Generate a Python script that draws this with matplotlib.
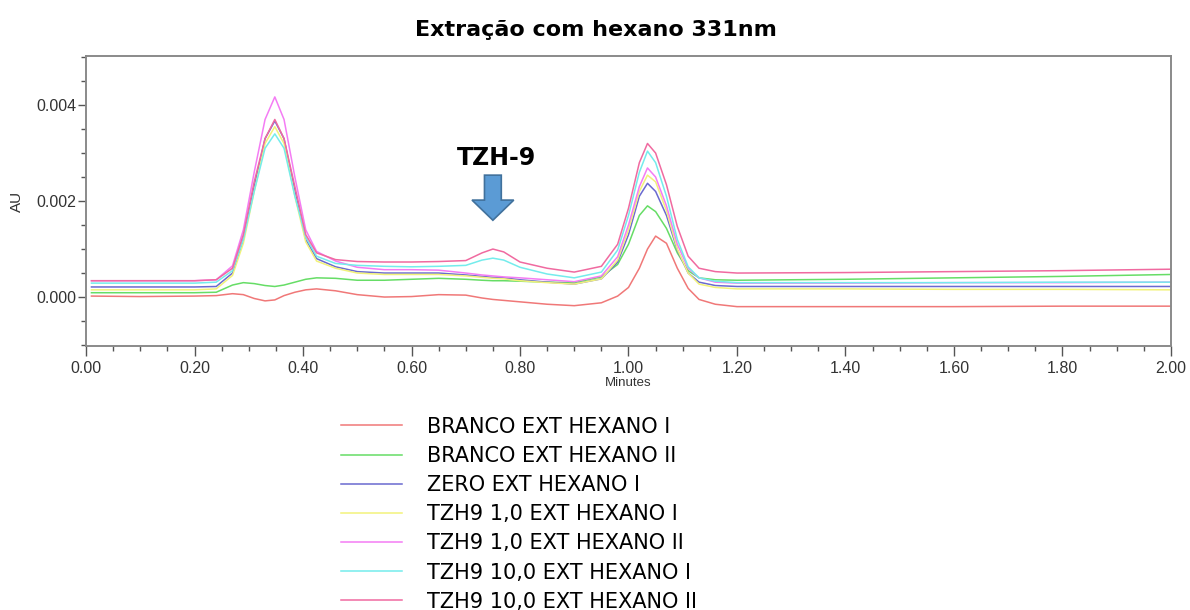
import matplotlib
matplotlib.use("Agg")
import matplotlib.pyplot as plt
import matplotlib.patches as patches
from matplotlib.ticker import MultipleLocator, FormatStrFormatter
import numpy as np

plt.rcParams['font.family'] = ['Liberation Sans', 'DejaVu Sans']

# retention time grid (min)
t = [0.01, 0.10, 0.20, 0.24, 0.27, 0.29, 0.31, 0.33, 0.348, 0.365, 0.385, 0.405,
     0.425, 0.46, 0.50, 0.55, 0.60, 0.65, 0.70, 0.73, 0.75, 0.77, 0.80, 0.85,
     0.90, 0.95, 0.98, 1.00, 1.02, 1.035, 1.05, 1.07, 1.09, 1.11, 1.13, 1.16,
     1.20, 1.40, 1.60, 1.80, 2.00]

branco_1 = [0.00002, 0.00001, 0.00002, 0.00003, 0.00007, 0.00005, -0.00003, -0.00008,
            -0.00006, 0.00003, 0.00010, 0.00015, 0.00017, 0.00013, 0.00005, 0.00000,
            0.00001, 0.00005, 0.00004, -0.00002, -0.00005, -0.00007, -0.00010, -0.00015,
            -0.00018, -0.00012, 0.00002, 0.00020, 0.00060, 0.00100, 0.00127, 0.00112,
            0.00060, 0.00018, -0.00005, -0.00015, -0.00020, -0.00020, -0.00020, -0.00019,
            -0.00019]
branco_2 = [0.00009, 0.00009, 0.00009, 0.00010, 0.00025, 0.00030, 0.00028, 0.00024,
            0.00022, 0.00025, 0.00031, 0.00037, 0.00040, 0.00039, 0.00035, 0.00035,
            0.00037, 0.00039, 0.00037, 0.00035, 0.00034, 0.00034, 0.00033, 0.00031,
            0.00030, 0.00042, 0.00068, 0.00110, 0.00170, 0.00190, 0.00178, 0.00143,
            0.00092, 0.00055, 0.00040, 0.00036, 0.00035, 0.00037, 0.00040, 0.00043,
            0.00047]
zero_1 = [0.00021, 0.00021, 0.00021, 0.00022, 0.00050, 0.00120, 0.00230, 0.00330,
          0.00367, 0.00330, 0.00220, 0.00120, 0.00080, 0.00063, 0.00053, 0.00050,
          0.00050, 0.00050, 0.00046, 0.00043, 0.00041, 0.00040, 0.00036, 0.00031,
          0.00027, 0.00038, 0.00073, 0.00130, 0.00210, 0.00237, 0.00220, 0.00170,
          0.00098, 0.00050, 0.00031, 0.00024, 0.00022, 0.00022, 0.00022, 0.00022,
          0.00022]
tzh_1_1 = [0.00015, 0.00015, 0.00015, 0.00017, 0.00045, 0.00112, 0.00220, 0.00320,
           0.00355, 0.00320, 0.00210, 0.00115, 0.00075, 0.00060, 0.00050, 0.00047,
           0.00047, 0.00047, 0.00044, 0.00041, 0.00039, 0.00038, 0.00034, 0.00030,
           0.00027, 0.00038, 0.00077, 0.00140, 0.00220, 0.00254, 0.00240, 0.00180,
           0.00100, 0.00050, 0.00027, 0.00020, 0.00017, 0.00017, 0.00016, 0.00016,
           0.00015]
tzh_1_2 = [0.00034, 0.00034, 0.00034, 0.00036, 0.00065, 0.00140, 0.00260, 0.00370,
           0.00417, 0.00370, 0.00250, 0.00140, 0.00095, 0.00075, 0.00062, 0.00057,
           0.00057, 0.00056, 0.00050, 0.00046, 0.00044, 0.00042, 0.00040, 0.00036,
           0.00032, 0.00044, 0.00084, 0.00150, 0.00230, 0.00269, 0.00250, 0.00190,
           0.00110, 0.00060, 0.00040, 0.00031, 0.00029, 0.00029, 0.00030, 0.00030,
           0.00031]
tzh_10_1 = [0.00029, 0.00029, 0.00029, 0.00031, 0.00055, 0.00120, 0.00220, 0.00310,
            0.00340, 0.00310, 0.00210, 0.00125, 0.00085, 0.00070, 0.00066, 0.00064,
            0.00063, 0.00064, 0.00066, 0.00077, 0.00081, 0.00077, 0.00062, 0.00048,
            0.00040, 0.00052, 0.00098, 0.00170, 0.00260, 0.00304, 0.00280, 0.00210,
            0.00120, 0.00063, 0.00040, 0.00033, 0.00030, 0.00030, 0.00030, 0.00031,
            0.00031]
tzh_10_2 = [0.00034, 0.00034, 0.00034, 0.00036, 0.00060, 0.00130, 0.00240, 0.00330,
            0.00370, 0.00330, 0.00230, 0.00130, 0.00092, 0.00078, 0.00074, 0.00073,
            0.00073, 0.00074, 0.00076, 0.00092, 0.00100, 0.00094, 0.00073, 0.00060,
            0.00052, 0.00064, 0.00110, 0.00185, 0.00280, 0.00320, 0.00300, 0.00234,
            0.00147, 0.00085, 0.00060, 0.00053, 0.00050, 0.00051, 0.00053, 0.00055,
            0.00058]

labels = ['BRANCO EXT HEXANO I', 'BRANCO EXT HEXANO II', 'ZERO EXT HEXANO I',
          'TZH9 1,0 EXT HEXANO I', 'TZH9 1,0 EXT HEXANO II',
          'TZH9 10,0 EXT HEXANO I', 'TZH9 10,0 EXT HEXANO II']
colors = ['#F07878', '#66DD66', '#6A6AD0', '#F2F27A', '#F47CF4', '#74ECEC', '#F06AA0']
series = [branco_1, branco_2, zero_1, tzh_1_1, tzh_1_2, tzh_10_1, tzh_10_2]

fig = plt.figure(figsize=(11.9, 6.1), dpi=100)
ax = fig.add_axes([0.0723, 0.4328, 0.9117, 0.4752])

for y, c, lab in zip(series, colors, labels):
    ax.plot(t, y, color=c, lw=1.1, label=lab)

ax.set_xlim(0, 2.0)
ax.set_ylim(-0.00102, 0.00502)
ax.xaxis.set_major_locator(MultipleLocator(0.2))
ax.xaxis.set_minor_locator(MultipleLocator(0.05))
ax.yaxis.set_major_locator(MultipleLocator(0.002))
ax.yaxis.set_minor_locator(MultipleLocator(0.0005))
ax.xaxis.set_major_formatter(FormatStrFormatter('%.2f'))
ax.yaxis.set_major_formatter(FormatStrFormatter('%.3f'))
ax.tick_params(which='major', length=7, width=1, color='#555555',
               labelsize=11.5, labelcolor='#333333')
ax.tick_params(which='minor', length=3.5, width=1, color='#555555')
ax.tick_params(axis='y', which='major', length=6, pad=1)
for s in ax.spines.values():
    s.set_color('#8a8a8a')
    s.set_linewidth(1.4)

ax.set_xlabel('Minutes', fontsize=9.5, color='#333333', labelpad=1)
ax.set_ylabel('AU', fontsize=11, color='#333333', labelpad=9)
fig.text(0.501, 0.951, 'Extração com hexano 331nm', fontsize=16, fontweight='bold',
         ha='center', va='center', family=['DejaVu Sans'])

# TZH-9 marker
arrow = patches.FancyArrow(0.750, 0.00254, 0, -0.00094, width=0.031,
                           head_width=0.077, head_length=0.00042,
                           length_includes_head=True, facecolor='#5B9BD5',
                           edgecolor='#41719C', linewidth=1.2)
ax.add_patch(arrow)
ax.text(0.757, 0.0029, 'TZH-9', fontsize=17, fontweight='bold',
        ha='center', va='center', family=['DejaVu Sans'])

fig.legend(loc='upper left', bbox_to_anchor=(0.278, 0.334), frameon=False,
           prop={'family': 'DejaVu Sans', 'size': 15}, handlelength=2.9,
           handletextpad=1.2, labelspacing=0.44, borderpad=0)

plt.savefig('out.png', dpi=100)
